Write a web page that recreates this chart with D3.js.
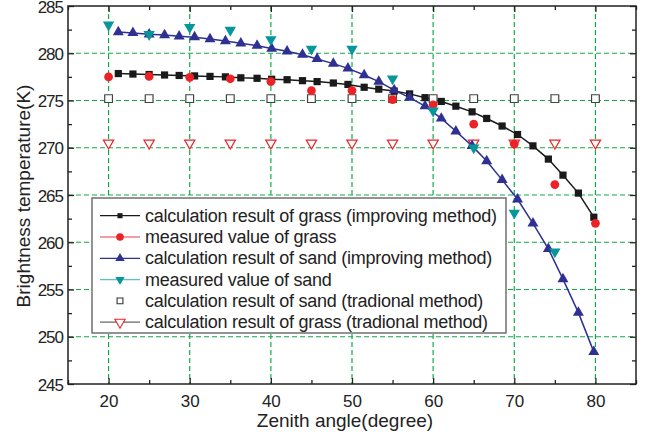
<!DOCTYPE html>
<html>
<head>
<meta charset="utf-8">
<script src="https://cdn.jsdelivr.net/npm/d3@7"></script>
<style>
  body { margin: 0; background: #fff; }
  svg { display: block; font-family: "Liberation Sans", Arial, sans-serif; }
</style>
</head>
<body>
<script>
// zenith angles of the computed curves
const calcAngles = [21.2, 23.0, 25.0, 26.9, 28.7, 30.6, 32.5, 34.4, 36.3, 38.3, 40.1, 42.0, 43.9, 45.7, 47.7, 49.5,
  51.5, 53.3, 55.2, 57.1, 59.0, 61.0, 62.8, 64.8, 66.6, 68.5, 70.4, 72.3, 74.2, 76.0, 77.9, 79.8];
const grassCalc = [277.85, 277.8, 277.75, 277.7, 277.65, 277.6, 277.55, 277.5, 277.4, 277.35, 277.25, 277.2, 277.1, 277.0, 276.85, 276.7,
  276.4, 276.2, 276.0, 275.7, 275.3, 274.9, 274.4, 273.8, 273.1, 272.3, 271.4, 270.2, 268.8, 267.1, 265.2, 262.65];
const sandCalc = [282.25, 282.15, 282.0, 281.93, 281.8, 281.7, 281.5, 281.3, 281.05, 280.8, 280.5, 280.2, 279.85, 279.4, 278.9, 278.4,
  277.7, 277.0, 276.1, 275.3, 274.4, 273.1, 271.75, 270.2, 268.6, 266.6, 264.55, 262.0, 259.3, 256.1, 252.55, 248.4];

// measured / traditional angles
const measAngles = [20, 25, 30, 35, 40, 45, 50, 55, 60, 65, 70, 75, 80];
const grassMeas = [277.5, 277.55, 277.45, 277.3, 277.0, 276.05, 276.05, 275.1, 274.55, 272.5, 270.4, 266.1, 262.0];
const sandMeas = [283.0, 282.0, 282.75, 282.45, 281.45, 280.45, 280.45, 277.3, 273.9, 270.0, 263.1, 259.0];
const sandTrad = [275.2, 275.2, 275.2, 275.2, 275.2, 275.2, 275.2, 275.2, 275.2, 275.2, 275.2, 275.2, 275.2];
const grassTrad = [270.5, 270.5, 270.5, 270.5, 270.5, 270.5, 270.5, 270.5, 270.5, 270.5, 270.5, 270.5, 270.5];

const xTicks = [20, 30, 40, 50, 60, 70, 80];
const yTicks = [245, 250, 255, 260, 265, 270, 275, 280, 285];
const legendLabels = [
  "calculation result of grass (improving method)",
  "measured value of grass",
  "calculation result of sand (improving method)",
  "measured value of sand",
  "calculation result of sand (tradional method)",
  "calculation result of grass (tradional method)"
];

const W = 654, H = 438;
const L = 68, R = 636, T = 6, B = 384;

const svg = d3.select("body").append("svg")
  .attr("width", W)
  .attr("height", H);

const x = d3.scaleLinear().domain([15, 85]).range([L, R]);
const y = d3.scaleLinear().domain([245, 285]).range([B, T]);

// grid
const grid = svg.append("g")
  .attr("stroke", "#12ad4a")
  .attr("stroke-width", 1.2)
  .attr("stroke-dasharray", "5,3");
grid.selectAll("line.v").data(xTicks).enter().append("line")
  .attr("x1", d => x(d)).attr("x2", d => x(d))
  .attr("y1", T).attr("y2", B);
grid.selectAll("line.h").data([250, 255, 260, 265, 270, 275, 280]).enter().append("line")
  .attr("x1", L).attr("x2", R)
  .attr("y1", d => y(d)).attr("y2", d => y(d));

// axes with inward ticks, mirrored on top/right
const xMinor = [15, 25, 35, 45, 55, 65, 75, 85];
const yMinor = [247.5, 252.5, 257.5, 262.5, 267.5, 272.5, 277.5, 282.5];

function styleAxis(g) {
  g.select(".domain").remove();
  g.selectAll(".tick line").attr("stroke", "#222").attr("stroke-width", 1.3);
  g.selectAll("text").attr("fill", "#222").style("font-size", "17px");
}

svg.append("g").attr("transform", `translate(0,${B})`)
  .call(d3.axisBottom(x).tickValues(xTicks).tickSize(-6).tickPadding(11))
  .call(styleAxis);
svg.append("g").attr("transform", `translate(0,${B})`)
  .call(d3.axisBottom(x).tickValues(xMinor).tickSize(-4).tickFormat(""))
  .call(styleAxis);
svg.append("g").attr("transform", `translate(0,${T})`)
  .call(d3.axisTop(x).tickValues(xTicks).tickSize(-6).tickFormat(""))
  .call(styleAxis);
svg.append("g").attr("transform", `translate(0,${T})`)
  .call(d3.axisTop(x).tickValues(xMinor).tickSize(-4).tickFormat(""))
  .call(styleAxis);
svg.append("g").attr("transform", `translate(${L},0)`)
  .call(d3.axisLeft(y).tickValues(yTicks).tickSize(-6).tickPadding(5))
  .call(styleAxis)
  .call(g => g.selectAll("text").style("letter-spacing", "-1px").attr("dy", "0.36em"));
svg.append("g").attr("transform", `translate(${L},0)`)
  .call(d3.axisLeft(y).tickValues(yMinor).tickSize(-4).tickFormat(""))
  .call(styleAxis);
svg.append("g").attr("transform", `translate(${R},0)`)
  .call(d3.axisRight(y).tickValues(yTicks).tickSize(-6).tickFormat(""))
  .call(styleAxis);
svg.append("g").attr("transform", `translate(${R},0)`)
  .call(d3.axisRight(y).tickValues(yMinor).tickSize(-4).tickFormat(""))
  .call(styleAxis);

svg.append("rect")
  .attr("x", L).attr("y", T)
  .attr("width", R - L).attr("height", B - T)
  .attr("fill", "none")
  .attr("stroke", "#222")
  .attr("stroke-width", 1.5);

// axis titles
svg.append("text")
  .attr("x", 345).attr("y", 427)
  .attr("text-anchor", "middle")
  .style("font-size", "19px")
  .attr("fill", "#222")
  .text("Zenith angle(degree)");
svg.append("text")
  .attr("transform", "translate(30,196) rotate(-90)")
  .attr("text-anchor", "middle")
  .style("font-size", "19px")
  .attr("fill", "#222")
  .text("Brightness temperature(K)");

// series
const black = "#1a1a1a", red = "#ec2227", blue = "#2e3192", teal = "#05979a";
const sym = (type, size) => d3.symbol().type(type).size(size)();

const line = d3.line().x(d => x(d[0])).y(d => y(d[1]));
const grassCalcPts = d3.zip(calcAngles, grassCalc);
const sandCalcPts = d3.zip(calcAngles, sandCalc);

const plot = svg.append("g");

plot.append("path").datum(grassCalcPts).attr("d", line)
  .attr("fill", "none").attr("stroke", black).attr("stroke-width", 1.5);
plot.append("path").datum(sandCalcPts).attr("d", line)
  .attr("fill", "none").attr("stroke", blue).attr("stroke-width", 1.5);

// traditional (open markers)
plot.selectAll("path.st").data(d3.zip(measAngles, sandTrad)).enter().append("path")
  .attr("d", sym(d3.symbolSquare, 60))
  .attr("transform", d => `translate(${x(d[0])},${y(d[1])})`)
  .attr("fill", "#fff").attr("stroke", "#444").attr("stroke-width", 1.2);
plot.selectAll("path.gt").data(d3.zip(measAngles, grassTrad)).enter().append("path")
  .attr("d", sym(d3.symbolTriangle, 46))
  .attr("transform", d => `translate(${x(d[0])},${y(d[1])}) rotate(180)`)
  .attr("fill", "#fff").attr("stroke", red).attr("stroke-width", 1.2);

plot.selectAll("path.gc").data(grassCalcPts).enter().append("path")
  .attr("d", sym(d3.symbolSquare, 52))
  .attr("transform", d => `translate(${x(d[0])},${y(d[1])})`)
  .attr("fill", black);
plot.selectAll("path.sc").data(sandCalcPts).enter().append("path")
  .attr("d", sym(d3.symbolTriangle, 52))
  .attr("transform", d => `translate(${x(d[0])},${y(d[1])})`)
  .attr("fill", blue);
plot.selectAll("path.gm").data(d3.zip(measAngles, grassMeas)).enter().append("path")
  .attr("d", sym(d3.symbolCircle, 60))
  .attr("transform", d => `translate(${x(d[0])},${y(d[1])})`)
  .attr("fill", red);
plot.selectAll("path.sm").data(d3.zip(measAngles, sandMeas)).enter().append("path")
  .attr("d", sym(d3.symbolTriangle, 56))
  .attr("transform", d => `translate(${x(d[0])},${y(d[1])}) rotate(180)`)
  .attr("fill", teal);

// legend
const lg = svg.append("g");
lg.append("rect")
  .attr("x", 92).attr("y", 198)
  .attr("width", 414).attr("height", 135)
  .attr("fill", "#fff")
  .attr("stroke", "#666")
  .attr("stroke-width", 1.4);

const legendStyle = [
  { line: black, marker: d3.symbolSquare, size: 26, fill: black, stroke: "none", rot: 0 },
  { line: "#f07c80", marker: d3.symbolCircle, size: 44, fill: red, stroke: "none", rot: 0 },
  { line: blue, marker: d3.symbolTriangle, size: 38, fill: blue, stroke: "none", rot: 0 },
  { line: "#5cc0c2", marker: d3.symbolTriangle, size: 38, fill: teal, stroke: "none", rot: 180 },
  { line: null, marker: d3.symbolSquare, size: 34, fill: "#fff", stroke: "#333", rot: 0 },
  { line: "#666", marker: d3.symbolTriangle, size: 46, fill: "#fff", stroke: red, rot: 180 }
];

const rows = lg.selectAll("g.row").data(legendLabels).enter().append("g")
  .attr("transform", (d, i) => `translate(0,${215.7 + i * 21.3})`);
rows.each(function (d, i) {
  const g = d3.select(this), s = legendStyle[i];
  if (s.line) {
    g.append("line").attr("x1", 100).attr("x2", 140).attr("y1", 0).attr("y2", 0)
      .attr("stroke", s.line).attr("stroke-width", 1.3);
  }
  g.append("path")
    .attr("d", sym(s.marker, s.size))
    .attr("transform", `translate(120,0) rotate(${s.rot})`)
    .attr("fill", s.fill)
    .attr("stroke", s.stroke)
    .attr("stroke-width", 1.1);
  g.append("text")
    .attr("x", 145).attr("y", 6)
    .style("font-size", "18px")
    .style("letter-spacing", "-0.25px")
    .attr("fill", "#222")
    .text(d);
});
</script>
</body>
</html>
